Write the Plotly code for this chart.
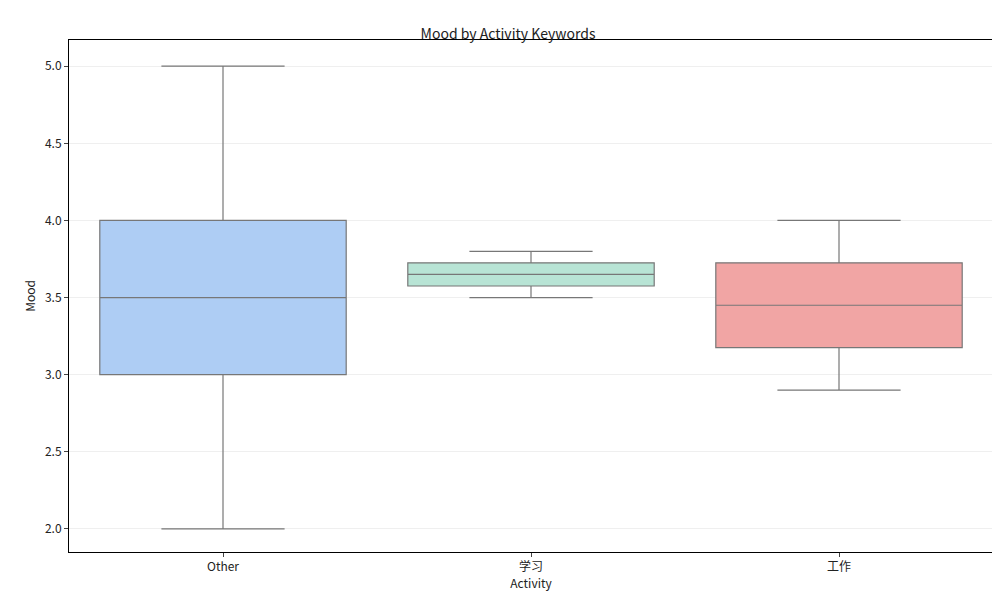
import plotly.graph_objects as go

activities = ["Other", "学习", "工作"]
mins = [2.0, 3.5, 2.9]
q1s = [3.0, 3.575, 3.175]
medians = [3.5, 3.65, 3.45]
q3s = [4.0, 3.725, 3.725]
maxs = [5.0, 3.8, 4.0]
colors = ["#aecdf4", "#b8e4d5", "#f1a5a4"]

fig = go.Figure()
for i, a in enumerate(activities):
    fig.add_trace(go.Box(
        x=[a], q1=[q1s[i]], median=[medians[i]], q3=[q3s[i]],
        lowerfence=[mins[i]], upperfence=[maxs[i]],
        fillcolor=colors[i], line=dict(color="#777777", width=1.2),
        width=0.8, whiskerwidth=0.5, showlegend=False, hoverinfo="y",
    ))

fig.update_layout(
    width=1000, height=600,
    paper_bgcolor="white", plot_bgcolor="white",
    font=dict(family="Noto Sans CJK SC", size=12, color="#222"),
    title=dict(text="Mood by Activity Keywords", x=0.5, xanchor="center",
               y=0.965, yref="container", automargin=False, font=dict(size=14)),
    margin=dict(l=61, r=15, t=32, b=56, autoexpand=False),
    xaxis=dict(title=dict(text="Activity", standoff=6, font=dict(size=12)), showline=True,
               linecolor="black", mirror=True, ticks="outside", ticklen=4,
               range=[-0.5, 2.5], automargin=False),
    yaxis=dict(title=dict(text="Mood", standoff=6, font=dict(size=12)), showline=True,
               linecolor="black", mirror=True, ticks="outside", ticklen=4,
               range=[1.85, 5.17], dtick=0.5, tickformat=".1f", showgrid=True,
               gridcolor="#efefef", zeroline=False, automargin=False),
)
fig.write_html("out.html")
